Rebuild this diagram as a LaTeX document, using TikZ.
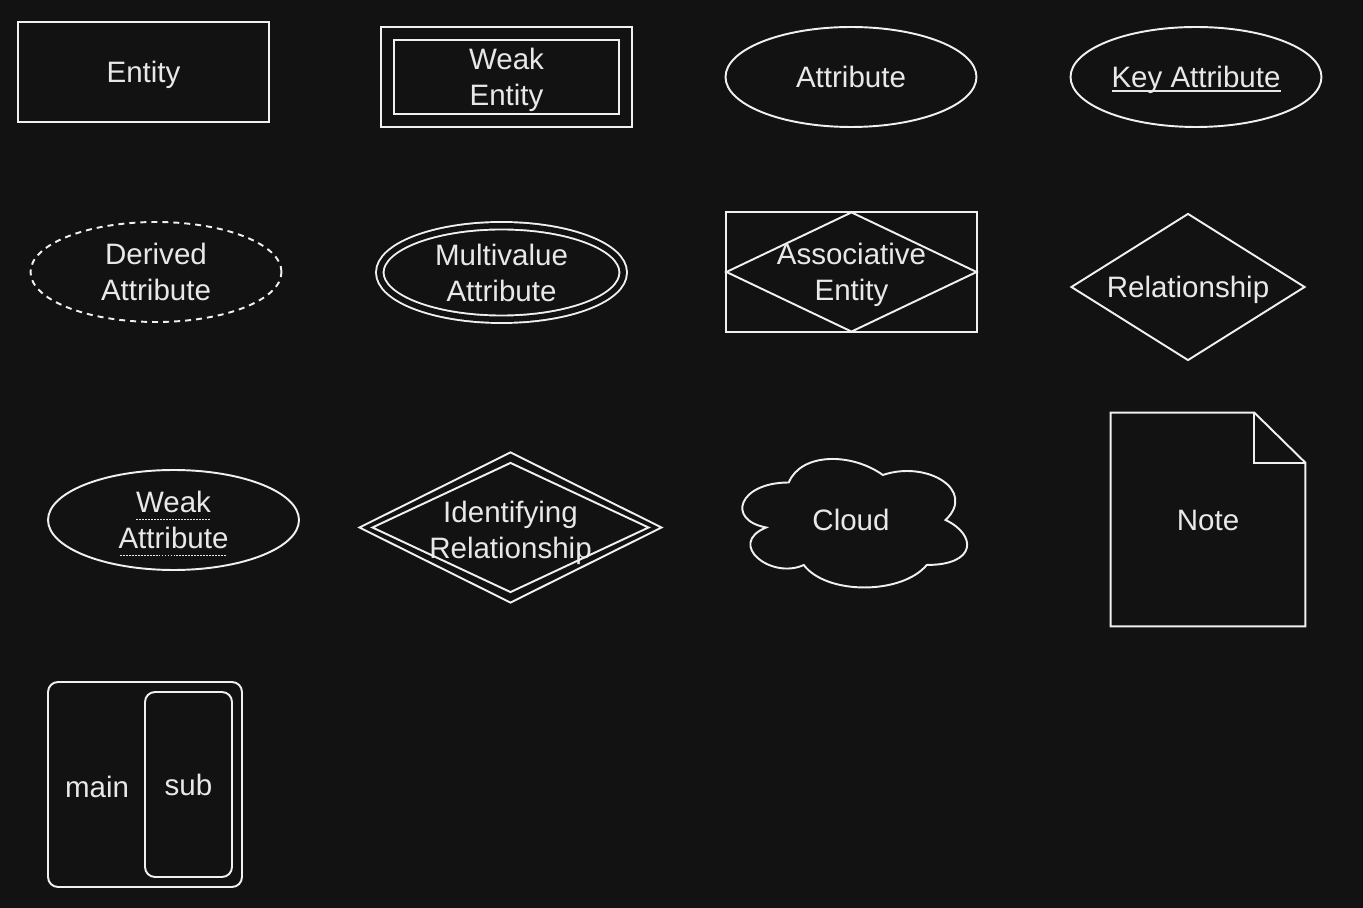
\documentclass[tikz,border=0pt]{standalone}
\usepackage{fontspec}
\setmainfont{Liberation Sans}
\usepackage{tikz}
\usetikzlibrary{shapes.geometric}
\definecolor{canvas}{HTML}{121212}
\definecolor{ink}{HTML}{F0F0F0}
\definecolor{wordink}{HTML}{E8E8E8}
\newsavebox{\wordbox}
\newcommand{\lineset}{\rule[-4pt]{0pt}{20pt}}
\newcommand{\topset}{\rule{0pt}{16pt}}
\newcommand{\keyline}[1]{\sbox{\wordbox}{#1}\rlap{\rule[-2.4pt]{\wd\wordbox}{0.8pt}}\usebox{\wordbox}}
\newcommand{\weakline}[1]{\sbox{\wordbox}{#1}\rlap{\raisebox{-4pt}{\hbox to \wd\wordbox{\cleaders\hbox{\rule{1.1pt}{0.6pt}\kern0.6pt}\hfil}}}\usebox{\wordbox}}

\begin{document}
\begin{tikzpicture}[
    x=0.02cm, y=-0.02cm,
    every node/.style={font=\fontsize{16.8}{20.5}\selectfont, text=wordink, align=center, inner sep=0pt,
      execute at begin node=\lineset, execute at end node=\lineset},
    inkline/.style={draw=ink, line width=1.1pt},
    ent/.style={inkline, rectangle, minimum width=5.02cm, minimum height=2cm},
    attr/.style={inkline, ellipse, inner ysep=-8pt, minimum width=5.02cm, minimum height=2cm},
    rel/.style={inkline, diamond},
    twin/.style={double=canvas, double distance=#1}
  ]

  \fill[canvas] (0,0) rectangle (1363,908);

  % first row
  \node[ent] (entity) at (143.5,72) {Entity};
  \node[ent, twin=0.221cm, minimum width=4.77cm, minimum height=1.75cm] (weakent) at (506.5,77) {\topset Weak\\Entity};
  \node[attr] (attrib) at (851,77) {Attribute};
  \node[attr] (keyattr) at (1196,77) {\keyline{Key Attribute}};

  % second row
  \node[attr, dash pattern=on 0.12cm off 0.1cm] (derived) at (156,272) {\topset Derived\\Attribute};
  \node[attr, twin=0.11cm, minimum width=4.87cm, minimum height=1.87cm] (multi) at (501.5,272.5) {\topset Multivalue\\Attribute};
  \node[ent, minimum height=2.4cm] (assocbox) at (851.5,272) {};
  \node[rel, minimum width=5.02cm, minimum height=2.4cm, label={center:{\topset Associative\\Entity}}] (assoc) at (851.5,272) {};
  \node[rel, aspect=1.59, minimum width=4.68cm, minimum height=2.94cm] (relship) at (1188,287) {Relationship};

  % third row
  \node[attr] (weakattr) at (173.5,520) {\topset\weakline{Weak}\\\weakline{Attribute}};
  \node[rel, minimum width=6.06cm, minimum height=3.02cm, label={[yshift=-0.04cm]center:{\topset Identifying\\Relationship}}] (identrel) at (510.5,527.5) {};
  \node[rel, minimum width=5.54cm, minimum height=2.6cm] (identin) at (510.5,527.5) {};
  \begin{scope}[shift={(726,445)}, x=5.02cm, y=-3cm]
    \draw[inkline] (0.25,0.25) .. controls (0.05,0.25) and (0,0.5) .. (0.16,0.55)
      .. controls (0,0.66) and (0.18,0.9) .. (0.31,0.8)
      .. controls (0.4,1) and (0.7,1) .. (0.8,0.8)
      .. controls (1,0.8) and (1,0.6) .. (0.875,0.5)
      .. controls (1,0.3) and (0.8,0.1) .. (0.625,0.2)
      .. controls (0.5,0.05) and (0.3,0.05) .. (0.25,0.25) -- cycle;
  \end{scope}
  \node (cloud) at (851,520) {Cloud};
  \node[minimum width=3.88cm, minimum height=4.26cm] (note) at (1208,519.5) {Note};
  \draw[inkline] (note.south west) -- (note.north west) -- ([xshift=-1.02cm]note.north east)
    -- ([yshift=-1cm]note.north east) -- (note.south east) -- cycle;
  \draw[inkline] ([xshift=-1.02cm]note.north east) |- ([yshift=-1cm]note.north east);

  % fourth row
  \node[inkline, rounded corners=0.2cm, minimum width=3.88cm, minimum height=4.1cm] (mainbox) at (145,784.5) {};
  \node (maintext) at (97,787) {main};
  \node[inkline, rounded corners=0.2cm, minimum width=1.74cm, minimum height=3.7cm] (subbox) at (188.5,784.5) {sub};
\end{tikzpicture}
\end{document}
